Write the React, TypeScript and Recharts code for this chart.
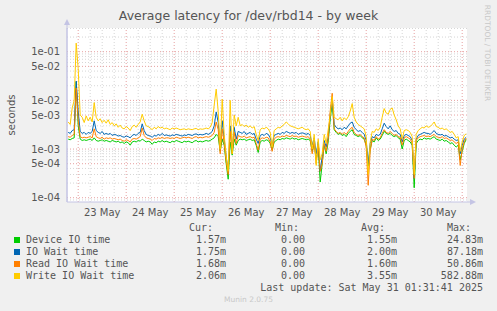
import React from "react";
import {
  LineChart,
  Line,
  XAxis,
  YAxis,
  CartesianGrid,
  ReferenceLine,
} from "recharts";

// sample times, hours from 23 May 00:00, one sample per hour
const hours = Array.from({ length: 200 }, (_, i) => -5 + i);

// values in milliseconds
const deviceMs = [
  1.6, 1.55, 1.65, 1.7, 24, 3, 1.6, 1.5, 1.55, 1.5,
  1.55, 1.6, 1.5, 1.7, 1.5, 1.45, 1.5, 1.55, 1.45, 1.5,
  1.45, 1.4, 1.5, 1.45, 1.4, 1.45, 1.35, 1.4, 1.3, 1.4,
  1.35, 1.2, 1.4, 1.45, 1.4, 1.5, 1.45, 1.6, 1.5, 1.4,
  1.45, 1.4, 1.25, 1.4, 1.35, 1.45, 1.4, 1.5, 1.4, 1.45,
  1.4, 1.35, 1.45, 1.4, 1.5, 1.45, 1.4, 1.35, 1.45, 1.4,
  1.45, 1.4, 1.35, 1.45, 1.5, 1.4, 1.45, 1.4, 1.45, 1.5,
  1.45, 1.5, 1.6, 1.7, 2.0, 1.8, 0.9, 1.6, 1.2, 0.5,
  0.24, 1.4, 0.75, 1.6, 1.2, 1.5, 1.6, 1.55, 1.6, 1.5,
  1.55, 1.6, 1.5, 1.55, 1.2, 0.85, 1.4, 1.5, 1.45, 1.55,
  1.5, 1.3, 0.95, 1.4, 1.5, 1.6, 1.55, 1.65, 1.6, 1.7,
  1.65, 1.6, 1.7, 1.6, 1.65, 1.55, 1.6, 1.65, 1.6, 1.55,
  1.6, 1.5, 0.9, 1.3, 0.6, 1.1, 0.21, 0.5, 1.2, 0.8,
  1.4, 4, 9, 2.5, 2.2, 2.0, 2.1, 1.9, 2.0, 1.8,
  2.1, 2.3, 2.5, 2.0, 1.9, 1.8, 1.9, 1.7, 1.6, 1.2,
  0.45, 1.0, 1.5, 1.4, 1.7, 1.5, 1.6, 1.9, 2.3, 2.1,
  2.0, 2.1, 1.9, 1.8, 1.9, 1.7, 1.6, 1.0, 1.5, 1.6,
  1.5, 1.4, 1.2, 0.16, 1.3, 1.5, 1.6, 1.55, 1.7, 1.6,
  1.65, 1.6, 1.7, 1.8, 1.6, 1.55, 1.5, 1.6, 1.45, 1.5,
  1.4, 1.3, 1.35, 1.2, 1.1, 1.2, 0.6, 0.9, 1.3, 1.57,
];
const ioWaitMs = [
  2.2, 2.1, 2.4, 2.5, 25, 6, 2.3, 2.1, 2.2, 2.0,
  2.2, 2.1, 2.3, 3.8, 2.4, 2.2, 2.1, 2.3, 2.0, 2.1,
  2.0, 2.1, 1.9, 2.0, 1.95, 1.85, 1.9, 1.8, 1.75, 1.85,
  1.8, 1.7, 1.9, 2.0, 1.9, 2.1, 2.2, 3.3, 2.4, 2.0,
  1.9, 1.85, 1.75, 1.9, 1.85, 2.0, 1.9, 2.1, 1.9, 1.95,
  1.9, 1.85, 1.95, 1.9, 2.0, 1.95, 1.9, 1.85, 1.95, 1.9,
  2.0, 1.95, 1.9, 2.0, 2.05, 1.95, 2.0, 1.95, 2.0, 2.1,
  2.0, 2.1, 2.3, 3.0, 5.8, 3.5, 1.2, 3.8, 1.6, 0.7,
  0.35, 3.0, 1.0, 2.8, 1.6, 2.3, 2.2, 2.1, 2.3, 2.0,
  2.1, 2.2, 2.0, 2.1, 1.6, 1.3, 1.9, 2.0, 1.9, 2.1,
  2.0, 1.7, 1.2, 1.9, 2.0, 2.1, 2.0, 2.2, 2.1, 2.3,
  2.2, 2.1, 2.2, 2.1, 2.2, 2.0, 2.1, 2.15, 2.1, 2.0,
  2.1, 1.9, 1.2, 1.7, 0.8, 1.4, 0.35, 0.7, 1.5, 1.1,
  1.8, 5, 11, 3.2, 2.8, 2.6, 2.7, 2.5, 2.8, 2.6,
  3.0, 3.4, 3.6, 2.8, 2.5, 2.3, 2.4, 2.2, 2.0, 1.5,
  0.5, 1.3, 1.8, 1.7, 2.0, 1.9, 2.0, 2.6, 3.4, 2.9,
  2.6, 3.0, 2.5, 2.3, 2.4, 2.1, 2.0, 1.4, 1.9, 2.0,
  1.9, 1.8, 1.5, 0.25, 1.6, 1.9, 2.0, 2.1, 2.2, 2.1,
  2.1, 2.0, 2.2, 2.4, 2.1, 2.0, 1.95, 2.0, 1.85, 1.9,
  1.8, 1.7, 1.75, 1.6, 1.5, 1.55, 0.8, 1.2, 1.6, 1.75,
];
const readMs = [
  1.8, 1.75, 1.9, 2.0, 18, 4, 1.8, 1.7, 1.75, 1.7,
  1.75, 1.8, 1.7, 2.6, 1.8, 1.7, 1.65, 1.75, 1.6, 1.7,
  1.65, 1.7, 1.6, 1.65, 1.6, 1.55, 1.6, 1.5, 1.45, 1.55,
  1.5, 1.4, 1.6, 1.65, 1.6, 1.7, 1.8, 2.7, 1.9, 1.7,
  1.65, 1.6, 1.5, 1.65, 1.6, 1.7, 1.65, 1.75, 1.65, 1.7,
  1.7, 1.65, 1.7, 1.65, 1.75, 1.7, 1.65, 1.7, 1.75, 1.7,
  1.75, 1.7, 1.65, 1.75, 1.8, 1.7, 1.75, 1.7, 1.75, 1.8,
  1.75, 1.8, 1.9, 2.2, 3.6, 2.5, 0.8, 2.6, 1.3, 0.55,
  0.3, 2.3, 0.8, 2.2, 1.3, 1.9, 1.8, 1.75, 1.85, 1.7,
  1.75, 1.8, 1.7, 1.75, 1.3, 0.95, 1.6, 1.7, 1.65, 1.75,
  1.7, 1.4, 0.9, 1.6, 1.75, 1.8, 1.75, 1.85, 1.8, 1.9,
  1.85, 1.8, 1.9, 1.8, 1.85, 1.75, 1.8, 1.85, 1.8, 1.75,
  1.8, 1.6, 0.8, 1.4, 0.5, 1.2, 0.35, 0.5, 1.3, 0.9,
  1.6, 6, 14, 2.6, 2.3, 2.1, 2.2, 2.0, 2.2, 2.0,
  2.3, 2.6, 2.8, 2.2, 2.0, 1.9, 2.0, 1.8, 1.7, 1.1,
  0.18, 0.9, 1.6, 1.5, 1.8, 1.6, 1.7, 2.1, 2.5, 2.2,
  2.1, 2.3, 2.1, 1.9, 2.0, 1.8, 1.75, 1.2, 1.7, 1.8,
  1.7, 1.6, 1.3, 0.25, 1.5, 1.7, 1.8, 1.85, 1.9, 1.8,
  1.85, 1.8, 1.9, 2.0, 1.8, 1.75, 1.7, 1.8, 1.65, 1.7,
  1.6, 1.5, 1.55, 1.4, 1.3, 1.4, 0.46, 1.0, 1.4, 1.68,
];
const writeMs = [
  3.6, 3.2, 7, 10, 150, 45, 5, 4.5, 3.5, 4.8,
  3.8, 4.5, 3.6, 9, 4.5, 3.8, 4.2, 3.5, 3.9, 3.4,
  4.0, 3.2, 3.5, 3.0, 3.3, 2.8, 3.1, 2.7, 2.6, 2.9,
  2.7, 2.4, 2.9, 3.1, 2.8, 3.2, 3.6, 5.2, 3.8, 3.0,
  2.9, 2.7, 2.5, 2.8, 2.6, 2.9, 2.7, 2.8, 2.6, 2.7,
  2.6, 2.5, 2.7, 2.6, 2.7, 2.6, 2.5, 2.55, 2.6, 2.5,
  2.6, 2.55, 2.5, 2.6, 2.65, 2.5, 2.6, 2.55, 2.6, 2.7,
  2.6, 2.8, 3.5, 8, 17, 6, 1.0, 10.5, 2.0, 0.7,
  0.35, 10, 0.8, 5, 3.0, 4.5, 3.0, 3.2, 2.9, 3.1,
  2.8, 3.0, 2.7, 2.9, 2.0, 1.5, 2.5, 2.7, 2.6, 2.8,
  2.6, 2.2, 1.1, 2.4, 2.6, 2.8, 2.7, 3.0, 3.2, 3.6,
  3.3, 3.0, 2.9, 2.8, 2.7, 2.6, 2.7, 2.8, 2.6, 2.5,
  2.6, 2.3, 1.0, 2.0, 0.46, 1.6, 0.6, 0.8, 2.0, 1.3,
  2.5, 5, 12, 4.5, 4.2, 4.0, 4.5, 3.8, 4.4, 4.0,
  4.6, 6, 8.6, 4.5, 3.6, 3.2, 3.0, 2.8, 2.6, 1.8,
  0.3, 1.4, 2.3, 2.2, 2.6, 2.4, 2.8, 4.5, 6.8, 5.5,
  5.2, 6.5, 7.0, 5.0, 4.0, 3.0, 2.6, 1.6, 2.4, 2.5,
  2.4, 2.2, 1.8, 0.3, 2.0, 2.4, 2.6, 2.8, 2.7, 3.0,
  2.8, 2.9, 3.2, 3.6, 2.9, 2.8, 2.6, 2.7, 2.5, 2.6,
  2.4, 2.2, 2.3, 2.0, 1.7, 1.8, 0.9, 1.4, 1.9, 2.06,
];

const dayLabels = ["23 May", "24 May", "25 May", "26 May", "27 May", "28 May", "29 May", "30 May"];
const yTicks = [1e-4, 5e-4, 1e-3, 5e-3, 1e-2, 5e-2, 1e-1];

const seriesNames = ["Device IO time", "IO Wait time", "Read IO Wait time", "Write IO Wait time"];
const seriesKeys = ["device", "ioWait", "read", "write"];
const seriesColors = ["#00CC00", "#0066B3", "#FF8000", "#FFCC00"];
const curVals = ["1.57m", "1.75m", "1.68m", "2.06m"];
const minVals = ["0.00", "0.00", "0.00", "0.00"];
const avgVals = ["1.55m", "2.00m", "1.60m", "3.55m"];
const maxVals = ["24.83m", "87.18m", "50.86m", "582.88m"];

const data = hours.map((h, i) => ({
  h,
  device: deviceMs[i] / 1000,
  ioWait: ioWaitMs[i] / 1000,
  read: readMs[i] / 1000,
  write: writeMs[i] / 1000,
}));

const X_DOMAIN: [number, number] = [-5.6, 194.4];
const Y_DOMAIN: [number, number] = [8.17e-5, 0.307];

// log grid lines: 1..9 x 10^n
const hGrid: { v: number; major: boolean }[] = [];
for (let e = -5; e <= 0; e++) {
  for (let m = 1; m <= 9; m++) {
    const v = m * Math.pow(10, e);
    if (v >= Y_DOMAIN[0] && v <= Y_DOMAIN[1]) hGrid.push({ v, major: m === 1 || m === 5 });
  }
}
const vGrid: { v: number; major: boolean }[] = [];
for (let t = 0; t <= 192; t += 6) vGrid.push({ v: t, major: t % 24 === 0 });

const fmtExp = (v: number) => {
  const [m, e] = v.toExponential(0).split("e");
  const n = Math.abs(parseInt(e, 10));
  return `${m}e${parseInt(e, 10) < 0 ? "-" : "+"}${n < 10 ? "0" + n : n}`;
};

const mono = "'DejaVu Sans Mono', monospace";
const sans = "'DejaVu Sans', sans-serif";
const textGray = "#555";
const axisColor = "#c4c4e4";

const monoText = (top: number, right: number): React.CSSProperties => ({
  position: "absolute",
  top,
  right: 497 - right,
  fontFamily: mono,
  fontSize: 10,
  color: textGray,
  whiteSpace: "pre",
  lineHeight: "12px",
});

export default function App() {
  const rowY = [234, 246, 258, 270];
  return (
    <div
      style={{
        position: "absolute",
        left: 0,
        top: 0,
        width: 497,
        height: 311,
        background: "#f0f0f0",
        fontFamily: sans,
        overflow: "hidden",
      }}
    >
      <div
        style={{
          position: "absolute",
          top: 8,
          width: 497,
          textAlign: "center",
          fontSize: 12.5,
          color: textGray,
        }}
      >
        Average latency for /dev/rbd14 - by week
      </div>
      <div
        style={{
          position: "absolute",
          left: 11,
          top: 115,
          fontSize: 10,
          color: textGray,
          transform: "translate(-50%, -50%) rotate(-90deg)",
          whiteSpace: "nowrap",
        }}
      >
        seconds
      </div>
      <div
        style={{
          position: "absolute",
          left: 487,
          top: 53,
          fontSize: 7.5,
          color: "#c8c8c8",
          transform: "translate(-50%, -50%) rotate(90deg)",
          whiteSpace: "nowrap",
        }}
      >
        RRDTOOL / TOBI OETIKER
      </div>

      <LineChart
        width={497}
        height={311}
        data={data}
        margin={{ top: 28, right: 30, bottom: 89, left: 7 }}
        style={{ position: "absolute", left: 0, top: 0 }}
      >
        <CartesianGrid horizontal={false} vertical={false} fill="#ffffff" stroke="none" />
        {hGrid.map((g) => (
          <ReferenceLine
            key={`hy-${g.v}`}
            y={g.v}
            stroke={g.major ? "#e6a0a0" : "#d6d6d6"}
            strokeDasharray="1 2"
            ifOverflow="hidden"
          />
        ))}
        {vGrid.map((g) => (
          <ReferenceLine
            key={`vx-${g.v}`}
            x={g.v}
            stroke={g.major ? "#e6a0a0" : "#d6d6d6"}
            strokeDasharray="1 2"
            ifOverflow="hidden"
          />
        ))}
        <XAxis
          dataKey="h"
          type="number"
          domain={X_DOMAIN}
          allowDataOverflow
          ticks={dayLabels.map((_, i) => 12 + 24 * i)}
          tickFormatter={(v: number) => dayLabels[Math.round((v - 12) / 24)]}
          tickLine={false}
          tickSize={0}
          tickMargin={7}
          height={20}
          axisLine={{ stroke: axisColor }}
          tick={{ fontSize: 10, fill: textGray, fontFamily: sans }}
          interval={0}
        />
        <YAxis
          scale="log"
          domain={Y_DOMAIN}
          allowDataOverflow
          ticks={yTicks}
          tickFormatter={fmtExp}
          tickLine={false}
          tickSize={0}
          tickMargin={7}
          width={60}
          axisLine={{ stroke: axisColor }}
          tick={{ fontSize: 10, fill: textGray, fontFamily: sans }}
          interval={0}
        />
        {seriesKeys.map((k, i) => (
          <Line
            key={k}
            dataKey={k}
            type="linear"
            stroke={seriesColors[i]}
            strokeWidth={1}
            dot={false}
            isAnimationActive={false}
          />
        ))}
      </LineChart>

      {/* axis arrows */}
      <svg
        width={497}
        height={311}
        style={{ position: "absolute", left: 0, top: 0, pointerEvents: "none" }}
      >
        <line x1={67} y1={202} x2={67} y2={22} stroke={axisColor} />
        <path d="M64 25 L67 19 L70 25 Z" fill={axisColor} />
        <line x1={467} y1={202} x2={471} y2={202} stroke={axisColor} />
        <path d="M470 199 L476 202 L470 205 Z" fill={axisColor} />
      </svg>

      {[
        { label: "Cur:", end: 213 },
        { label: "Min:", end: 299 },
        { label: "Avg:", end: 385 },
        { label: "Max:", end: 471 },
      ].map((c) => (
        <div key={c.label} style={monoText(222, c.end)}>
          {c.label}
        </div>
      ))}

      {seriesNames.map((name, i) => (
        <React.Fragment key={name}>
          <div
            style={{
              position: "absolute",
              left: 14,
              top: rowY[i] + 3,
              width: 6,
              height: 6,
              background: seriesColors[i],
            }}
          />
          <div style={{ ...monoText(rowY[i], 0), right: undefined, left: 26 }}>{name}</div>
          <div style={monoText(rowY[i], 226)}>{curVals[i]}</div>
          <div style={monoText(rowY[i], 305)}>{minVals[i]}</div>
          <div style={monoText(rowY[i], 397)}>{avgVals[i]}</div>
          <div style={monoText(rowY[i], 483)}>{maxVals[i]}</div>
        </React.Fragment>
      ))}

      <div style={monoText(282, 483)}>Last update: Sat May 31 01:31:41 2025</div>
      <div
        style={{
          position: "absolute",
          top: 295,
          left: 0,
          width: 497,
          textAlign: "center",
          fontSize: 7.5,
          color: "#c8c8c8",
        }}
      >
        Munin 2.0.75
      </div>
    </div>
  );
}
